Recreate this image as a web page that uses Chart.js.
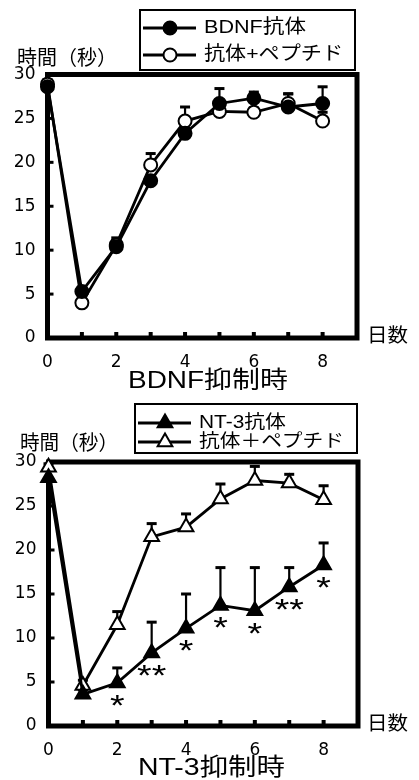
<!DOCTYPE html>
<html lang="ja">
<head>
<meta charset="UTF-8">
<title>BDNF / NT-3</title>
<script src="https://cdn.jsdelivr.net/npm/chart.js@4/dist/chart.umd.min.js"></script>
<style>
  body { margin: 0; background: #fff; }
  canvas { display: block; }
</style>
</head>
<body>
<canvas id="top" width="419" height="390"></canvas>
<canvas id="bottom" width="419" height="390"></canvas>
<script>
// days after injection
const days = [0, 1, 2, 3, 4, 5, 6, 7, 8];
const yTicks = [0, 5, 10, 15, 20, 25, 30];

// BDNF block
const bdnfAb = [28.6, 5.3, 10.4, 17.9, 23.3, 26.7, 27.3, 26.3, 26.7];
const bdnfAbErr = [0.6, 0.5, 1.0, 0.5, 0.6, 1.7, 0.7, 1.5, 1.9];
const bdnfPep = [28.9, 4.0, 10.6, 19.7, 24.7, 25.8, 25.7, 26.7, 24.7];
const bdnfPepErr = [0.5, 0.4, 0.5, 1.3, 1.6, 1.0, 0.5, 1.1, 1.0];

// NT-3 block
const nt3Ab = [28.2, 3.6, 4.9, 8.3, 11.1, 13.7, 13.1, 15.8, 18.3];
const nt3AbErr = [1.0, 0.5, 1.7, 3.5, 3.9, 4.3, 4.9, 2.2, 2.5];
const nt3Pep = [29.4, 4.6, 11.5, 21.5, 22.6, 25.8, 27.9, 27.6, 25.7];
const nt3PepErr = [0.4, 0.6, 1.5, 1.5, 1.5, 1.7, 1.6, 1.0, 1.6];
const nt3Sig = ['', '', '*', '**', '*', '*', '*', '**', '*'];

const JP = '"Liberation Sans", "Noto Sans CJK JP", sans-serif';

// draw text stretched to a given width (the figure's lettering is wide)
function say(ctx, text, x, y, size, width) {
  ctx.save();
  ctx.font = size + 'px ' + JP;
  const sx = width / ctx.measureText(text).width;
  ctx.translate(x, y);
  ctx.scale(sx, 1);
  ctx.textAlign = 'left';
  ctx.textBaseline = 'middle';
  ctx.fillStyle = '#000';
  ctx.fillText(text, 0, 0);
  ctx.restore();
}

function marker(ctx, style, fill, x, y) {
  ctx.save();
  ctx.fillStyle = fill;
  ctx.strokeStyle = '#000';
  ctx.lineWidth = 2;
  Chart.helpers.drawPoint(ctx, { pointStyle: style, radius: style === 'circle' ? 6.5 : 8.5, borderWidth: 2, rotation: 0 }, x, y);
  ctx.restore();
}

function deco(cfg) {
  return {
    id: 'deco',
    beforeDatasetsDraw(chart) {
      const ctx = chart.ctx;
      const a = chart.chartArea;
      const ys = chart.scales.y;
      ctx.save();
      ctx.strokeStyle = '#000';
      ctx.fillStyle = '#000';
      // upper error bars
      ctx.lineWidth = 2.2;
      chart.data.datasets.forEach((ds, i) => {
        chart.getDatasetMeta(i).data.forEach((pt, j) => {
          const top = ys.getPixelForValue(ds.data[j].y + ds.err[j]);
          ctx.beginPath();
          ctx.moveTo(pt.x, pt.y);
          ctx.lineTo(pt.x, top);
          ctx.stroke();
          ctx.fillRect(pt.x - 5, top - 1.5, 10, 3);
        });
      });
      // frame
      ctx.lineWidth = 5;
      ctx.strokeRect(a.left, a.top, a.right - a.left, a.bottom - a.top);
      // inward ticks
      yTicks.slice(1, -1).forEach(v => {
        const y = ys.getPixelForValue(v);
        ctx.fillRect(a.left, y - 1.5, 6, 3);
      });
      days.slice(1).forEach(d => {
        const x = chart.scales.x.getPixelForValue(d);
        ctx.fillRect(x - 2, a.bottom - 6, 4, 5);
      });
      ctx.restore();
    },
    afterDatasetsDraw(chart) {
      const ctx = chart.ctx;
      const a = chart.chartArea;
      const L = cfg.legend;
      ctx.save();
      // legend box
      ctx.strokeStyle = '#000';
      ctx.lineWidth = 2;
      ctx.fillStyle = '#fff';
      ctx.fillRect(L.x, L.y, L.w, L.h);
      ctx.strokeRect(L.x, L.y, L.w, L.h);
      chart.data.datasets.forEach((ds, i) => {
        const ry = L.rows[i];
        ctx.lineWidth = 2.8;
        ctx.beginPath();
        ctx.moveTo(L.x + 3, ry);
        ctx.lineTo(L.x + 56, ry);
        ctx.stroke();
        marker(ctx, ds.pointStyle, ds.pointBackgroundColor, L.x + 30, ry);
        say(ctx, ds.label, L.x + 64, ry, L.size, L.widths[i]);
      });
      ctx.restore();
      // texts
      say(ctx, '時間（秒）', cfg.yTitle[0], cfg.yTitle[1], 20, cfg.yTitle[2]);
      say(ctx, '日数', 367, a.bottom - 1, 19, 41);
      say(ctx, cfg.title[0], cfg.title[1], cfg.title[2], 24, cfg.title[3]);
      // significance marks
      if (cfg.sig) {
        const meta = chart.getDatasetMeta(0);
        ctx.save();
        ctx.font = '30px "Liberation Sans", sans-serif';
        ctx.fillStyle = '#000';
        cfg.sig.forEach((s, j) => {
          if (!s) return;
          const p = meta.data[j];
          ctx.save();
          ctx.translate(p.x, p.y + 32);
          ctx.scale(1.25, 1);
          ctx.textAlign = 'center';
          ctx.textBaseline = 'alphabetic';
          ctx.fillText(s, 0, 0);
          ctx.restore();
        });
        ctx.restore();
      }
    }
  };
}

function series(label, vals, errs, style, fill) {
  return {
    label: label,
    data: days.map((d, i) => ({ x: d, y: vals[i] })),
    err: errs,
    borderColor: '#000',
    borderWidth: 2.8,
    pointStyle: style,
    pointRadius: style === 'circle' ? 6.5 : 8.5,
    pointBorderWidth: 2,
    pointBorderColor: '#000',
    pointBackgroundColor: fill,
    tension: 0,
    clip: false
  };
}

function makeChart(id, cfg) {
  const tickFont = { family: '"DejaVu Sans", sans-serif', size: 17 };
  return new Chart(document.getElementById(id), {
    type: 'line',
    data: { datasets: cfg.datasets },
    options: {
      responsive: false,
      animation: false,
      events: [],
      layout: { padding: { left: 0, right: 419 - cfg.area.right, top: cfg.area.top, bottom: 0 } },
      scales: {
        x: {
          type: 'linear', min: 0, max: 9,
          afterFit: s => { s.height = 390 - cfg.area.bottom; },
          grid: { display: false }, border: { display: false },
          ticks: {
            stepSize: 1, autoSkip: false, maxRotation: 0, padding: 6,
            color: '#000', font: tickFont,
            callback: v => (v % 2 === 0 && v <= 8) ? String(v) : ''
          }
        },
        y: {
          min: 0, max: 30,
          afterFit: s => { s.width = cfg.area.left; },
          grid: { display: false }, border: { display: false },
          ticks: { stepSize: 5, padding: 4, color: '#000', font: tickFont }
        }
      },
      plugins: { legend: { display: false }, tooltip: { enabled: false } }
    },
    plugins: [deco(cfg)]
  });
}

makeChart('top', {
  area: { left: 47.5, right: 357, top: 74.5, bottom: 338 },
  datasets: [
    series('BDNF抗体', bdnfAb, bdnfAbErr, 'circle', '#000'),
    series('抗体+ペプチド', bdnfPep, bdnfPepErr, 'circle', '#fff')
  ],
  legend: { x: 140, y: 10, w: 215, h: 60, rows: [28, 55], size: 19, widths: [102, 139] },
  yTitle: [17, 59, 100],
  title: ['BDNF抑制時', 128, 381, 160]
});

makeChart('bottom', {
  area: { left: 48.5, right: 358, top: 72, bottom: 336 },
  datasets: [
    series('NT-3抗体', nt3Ab, nt3AbErr, 'triangle', '#000'),
    series('抗体＋ペプチド', nt3Pep, nt3PepErr, 'triangle', '#fff')
  ],
  legend: { x: 135, y: 14, w: 222, h: 49, rows: [33, 52], size: 18, widths: [87, 145] },
  yTitle: [20, 54, 98],
  title: ['NT-3抑制時', 138, 378, 147],
  sig: nt3Sig
});
</script>
</body>
</html>
